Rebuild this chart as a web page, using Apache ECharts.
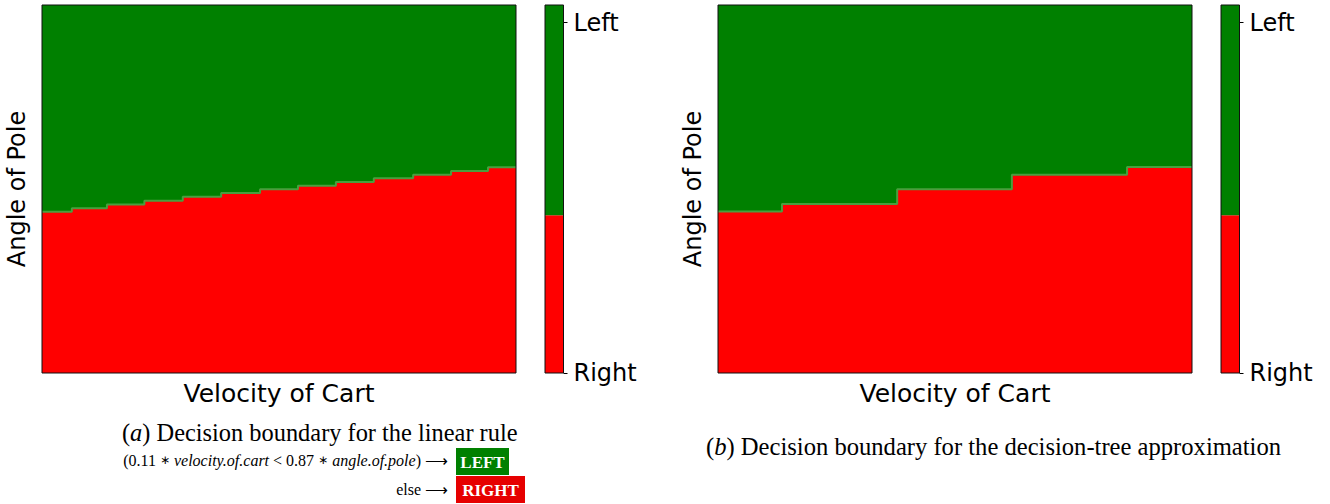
<!DOCTYPE html>
<html>
<head>
<meta charset="utf-8">
<title>Decision boundaries</title>
<script src="https://cdn.jsdelivr.net/npm/echarts@6/dist/echarts.min.js"></script>
<style>
  html, body { margin: 0; padding: 0; background: #fff; }
  #chart { width: 1330px; height: 504px; }
</style>
</head>
<body>
<div id="chart"></div>
<script>
// both axes are in percent of the plot (0..100), angle measured from the bottom
const axisMax = 100;

// (a) linear rule: x where each step starts, and the angle level of that step
const linearStepX = [0, 6.3, 13.7, 21.6, 29.7, 37.8, 46.0, 54.0, 62.0, 70.0, 78.3, 86.3, 94.1];
const linearLevel = [43.8, 44.8, 45.8, 46.8, 47.9, 48.9, 49.9, 50.9, 51.9, 52.9, 53.9, 54.9, 55.9];

// (b) decision-tree approximation
const treeStepX = [0, 13.5, 37.8, 62.0, 86.3];
const treeLevel = [43.9, 45.9, 49.9, 53.9, 56.0];

// colorbar: class boundaries and ticks
const cbBounds = [0, 0.45, 1.05];
const cbTicks = [0, 1];
const cbTickLabels = ['Right', 'Left'];

const GREEN = '#008000';
const RED = '#ff0000';
const EDGE = '#4a9e3e';
const FONT = 'DejaVu Sans';
const SERIF = 'Liberation Serif';

const chart = echarts.init(document.getElementById('chart'), null, { renderer: 'svg' });

const grids = [];
const xAxes = [];
const yAxes = [];
const series = [];

/** one decision plot + its colorbar */
function addPanel(plotLeft, cbLeft, stepX, level) {
  const g = grids.length;
  grids.push({ left: plotLeft, top: 5, width: 474, height: 368, show: true, z: 5,
    backgroundColor: 'transparent', borderColor: '#111', borderWidth: 1 });
  xAxes.push({
    gridIndex: g, type: 'value', min: 0, max: axisMax,
    axisLine: { show: false }, axisTick: { show: false }, axisLabel: { show: false }, splitLine: { show: false },
    name: 'Velocity of Cart', nameLocation: 'middle', nameGap: 8,
    nameTextStyle: { fontFamily: FONT, fontSize: 25, color: '#000' }
  });
  yAxes.push({
    gridIndex: g, type: 'value', min: 0, max: axisMax,
    axisLine: { show: false }, axisTick: { show: false }, axisLabel: { show: false }, splitLine: { show: false },
    name: 'Angle of Pole', nameLocation: 'middle', nameGap: 13, nameRotate: 90,
    nameTextStyle: { fontFamily: FONT, fontSize: 24, color: '#000' }
  });

  const pts = stepX.map((x, i) => [x, level[i]]);
  pts.push([axisMax, level[level.length - 1]]);

  // Left region (whole plot, covered below the boundary by the Right region)
  series.push({
    type: 'line', xAxisIndex: g, yAxisIndex: g, silent: true, symbol: 'none',
    data: [[0, axisMax], [axisMax, axisMax]],
    lineStyle: { opacity: 0 }, areaStyle: { color: GREEN, opacity: 1 }
  });
  series.push({
    type: 'line', xAxisIndex: g, yAxisIndex: g, silent: true, symbol: 'none', step: 'end',
    data: pts,
    lineStyle: { color: EDGE, width: 2 }, areaStyle: { color: RED, opacity: 1 }
  });

  // colorbar
  const c = grids.length;
  grids.push({ left: cbLeft, top: 5, width: 18.5, height: 368, show: true, z: 5,
    backgroundColor: 'transparent', borderColor: '#111', borderWidth: 1 });
  xAxes.push({ gridIndex: c, type: 'category', data: ['class'], show: false });
  yAxes.push({
    gridIndex: c, type: 'value', position: 'right', min: cbBounds[0], max: cbBounds[2],
    axisLine: { show: false }, splitLine: { show: false },
    axisTick: { show: true, customValues: cbTicks, length: 4, lineStyle: { color: '#000' } },
    axisLabel: {
      show: true, customValues: cbTicks, margin: 10,
      fontFamily: FONT, fontSize: 24, color: '#000',
      formatter: v => cbTickLabels[cbTicks.indexOf(v)]
    }
  });
  series.push({
    type: 'bar', xAxisIndex: c, yAxisIndex: c, stack: 'cb' + c, barWidth: '100%', silent: true,
    data: [cbBounds[1] - cbBounds[0]], itemStyle: { color: RED }
  });
  series.push({
    type: 'bar', xAxisIndex: c, yAxisIndex: c, stack: 'cb' + c, barWidth: '100%', silent: true,
    data: [cbBounds[2] - cbBounds[1]], itemStyle: { color: GREEN }
  });
}

addPanel(42, 545, linearStepX, linearLevel);
addPanel(718, 1221, treeStepX, treeLevel);

const ital = { fontStyle: 'italic', fontFamily: SERIF };
const op = { fontSize: 12, fontFamily: FONT, fontWeight: 'normal' };

const option = {
  animation: false,
  textStyle: { fontFamily: FONT },
  grid: grids,
  xAxis: xAxes,
  yAxis: yAxes,
  series: series,
  graphic: [
    {
      type: 'text', left: 122, top: 420,
      style: {
        text: '({i|a}) Decision boundary for the linear rule',
        font: '24.4px "Liberation Serif"', fill: '#000',
        rich: { i: Object.assign({ fontSize: 24.4 }, ital) }
      }
    },
    {
      type: 'text', right: 1330 - 448, top: 452,
      style: {
        text: '(0.11 {op|\u2217} {i|velocity.of.cart} < 0.87 {op|\u2217} {i|angle.of.pole}) \u27F6',
        font: '16px "Liberation Serif"', fill: '#000',
        rich: { i: Object.assign({ fontSize: 16 }, ital), op: op }
      }
    },
    {
      type: 'text', right: 1330 - 448, top: 481,
      style: { text: 'else \u27F6', font: '16px "Liberation Serif"', fill: '#000' }
    },
    {
      type: 'group', left: 456, top: 448,
      children: [
        { type: 'rect', shape: { x: 0, y: 0, width: 53, height: 27 }, style: { fill: GREEN } },
        { type: 'text', x: 26.5, y: 14,
          style: { text: 'LEFT', font: 'bold 17px "Liberation Serif"', fill: '#fff', align: 'center', verticalAlign: 'middle' } }
      ]
    },
    {
      type: 'group', left: 456, top: 476,
      children: [
        { type: 'rect', shape: { x: 0, y: 0, width: 69, height: 27 }, style: { fill: '#e60000' } },
        { type: 'text', x: 34.5, y: 14,
          style: { text: 'RIGHT', font: 'bold 17px "Liberation Serif"', fill: '#fff', align: 'center', verticalAlign: 'middle' } }
      ]
    },
    {
      type: 'text', left: 706, top: 434,
      style: {
        text: '({i|b}) Decision boundary for the decision-tree approximation',
        font: '24.6px "Liberation Serif"', fill: '#000',
        rich: { i: Object.assign({ fontSize: 24.6 }, ital) }
      }
    }
  ]
};

chart.setOption(option);
</script>
</body>
</html>
